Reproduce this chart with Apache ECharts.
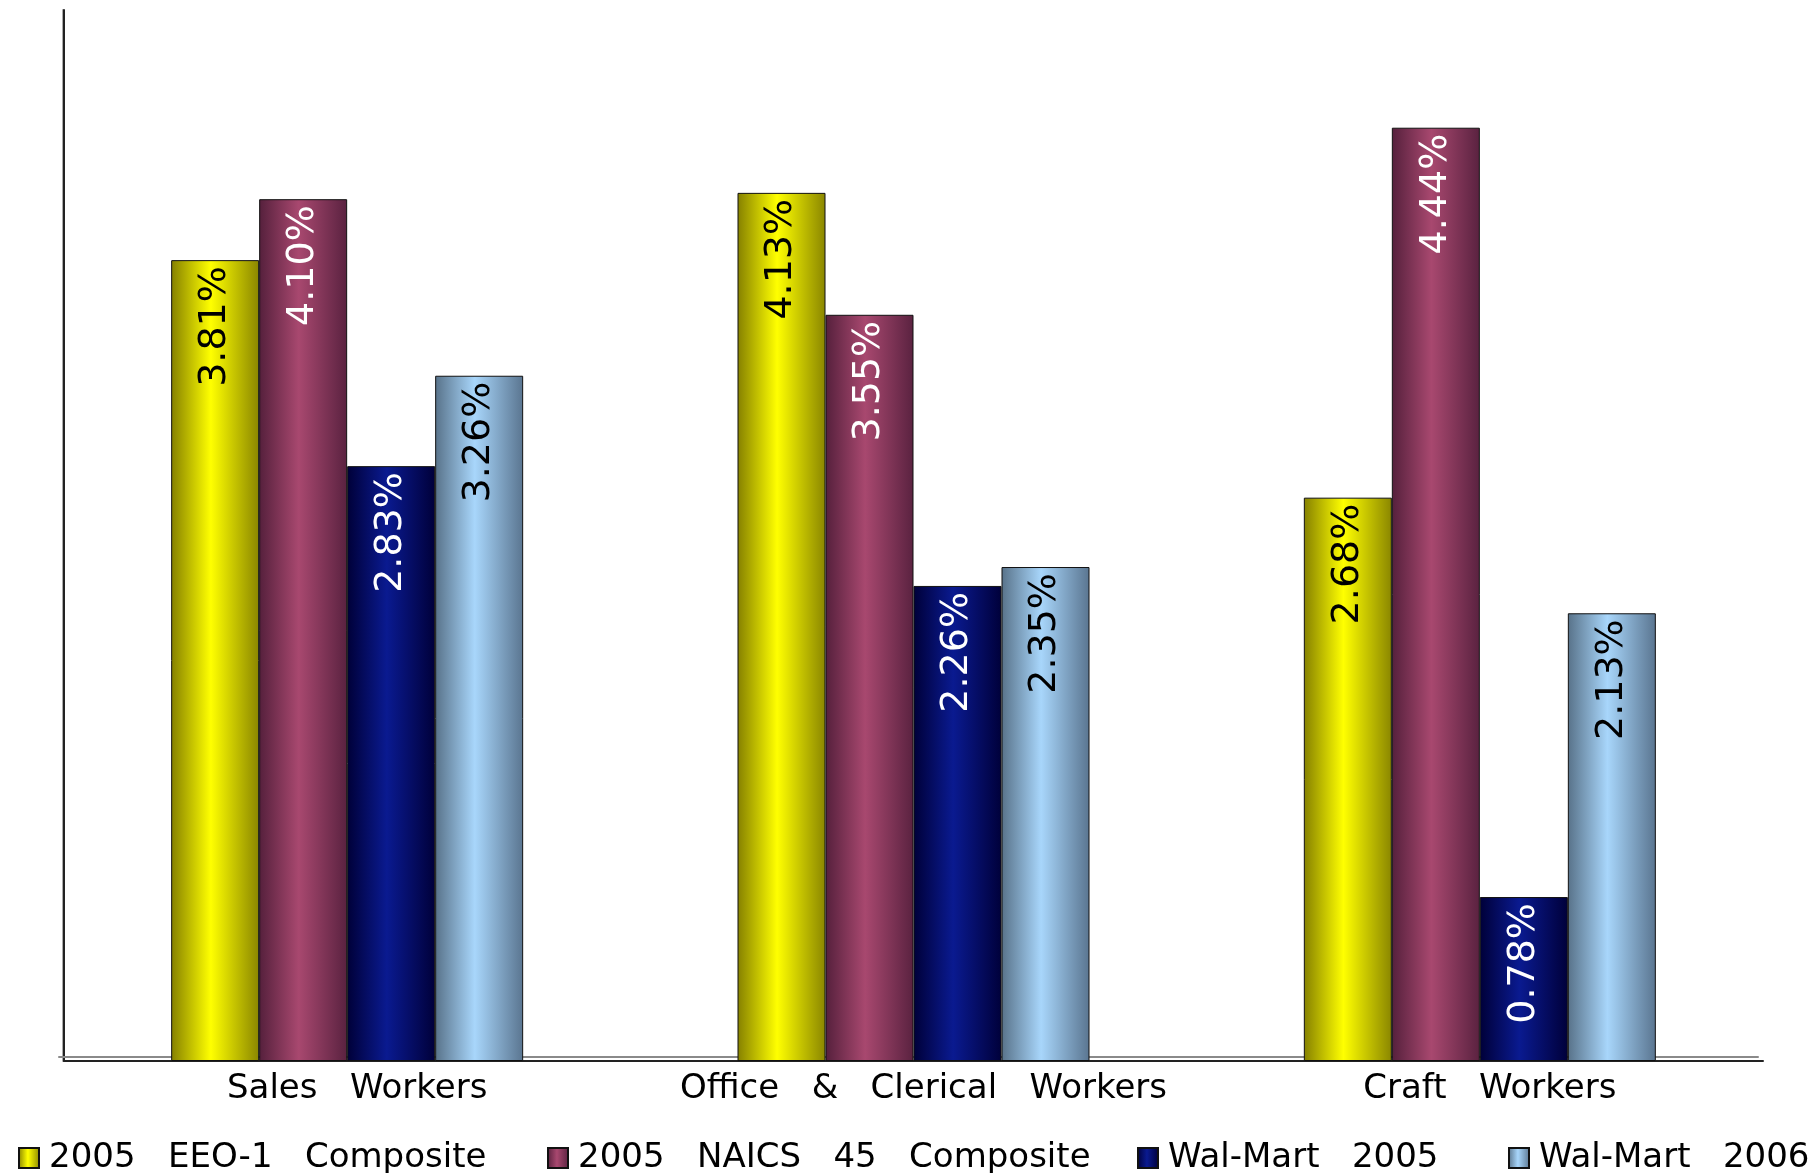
<!DOCTYPE html>
<html>
<head>
<meta charset="utf-8">
<script src="https://cdn.jsdelivr.net/npm/echarts@6/dist/echarts.min.js"></script>
<style>
  html, body { margin: 0; padding: 0; background: #fff; }
  #chart { width: 1820px; height: 1173px; }
</style>
</head>
<body>
<div id="chart"></div>
<script>
var categories = ['Sales   Workers', 'Office   &   Clerical   Workers', 'Craft   Workers'];
var seriesNames = ['2005   EEO-1   Composite', '2005   NAICS   45   Composite', 'Wal-Mart   2005', 'Wal-Mart   2006'];
var eeo2005 = [3.81, 4.13, 2.68];
var naics2005 = [4.10, 3.55, 4.44];
var walmart2005 = [2.83, 2.26, 0.78];
var walmart2006 = [3.26, 2.35, 2.13];

var font = "'DejaVu Sans', Verdana, sans-serif";

// cylinder-like horizontal gradients: edge, centre, edge
function cyl(edge, mid, edge2) {
    return new echarts.graphic.LinearGradient(0, 0, 1, 0, [
        {offset: 0, color: edge},
        {offset: 0.45, color: mid},
        {offset: 1, color: edge2}
    ]);
}
var fills = [
    cyl('#858000', '#ffff00', '#8a8600'),
    cyl('#55203c', '#a8486f', '#5a2240'),
    cyl('#000038', '#0a1a90', '#00003a'),
    cyl('#587289', '#a8d6fb', '#5a7590')
];
var labelColors = ['#000', '#fff', '#fff', '#000'];
var values = [eeo2005, naics2005, walmart2005, walmart2006];

var series = values.map(function (vals, i) {
    return {
        name: seriesNames[i],
        type: 'bar',
        data: vals,
        barWidth: 88,
        barGap: '0%',
        itemStyle: {color: fills[i], borderColor: '#111', borderWidth: 1},
        label: {
            show: true,
            position: 'insideTop',
            distance: 6,
            rotate: 90,
            align: 'right',
            verticalAlign: 'middle',
            fontFamily: font,
            fontSize: 38,
            color: labelColors[i],
            formatter: function (p) { return p.value.toFixed(2) + '%'; }
        }
    };
});

var legendLefts = [13, 542, 1132, 1503];
var legends = seriesNames.map(function (n, i) {
    return {
        data: [n],
        left: legendLefts[i],
        top: 1136,
        icon: 'rect',
        itemWidth: 20,
        itemHeight: 20,
        selectedMode: false,
        textStyle: {fontFamily: font, fontSize: 34, color: '#000', padding: [0, 0, 0, 5]}
    };
});

var chart = echarts.init(document.getElementById('chart'));
chart.setOption({
    animation: false,
    backgroundColor: '#fff',
    grid: {left: 64, right: 57, top: 10, bottom: 112},
    legend: legends,
    xAxis: {
        type: 'category',
        data: categories,
        axisTick: {show: false},
        axisLine: {
            lineStyle: {color: '#222', width: 2, shadowColor: '#8a8a8a', shadowOffsetX: -5, shadowOffsetY: -4, shadowBlur: 0}
        },
        axisLabel: {interval: 0, fontFamily: font, fontSize: 34, color: '#000', margin: 11, padding: [0, 0, 0, 20]}
    },
    yAxis: {
        type: 'value',
        min: 0,
        max: 5,
        axisLine: {
            show: true,
            lineStyle: {color: '#222', width: 2, shadowColor: '#aaa', shadowOffsetX: -1, shadowBlur: 0}
        },
        axisTick: {show: false},
        axisLabel: {show: false},
        splitLine: {show: false}
    },
    series: series
});
</script>
</body>
</html>
